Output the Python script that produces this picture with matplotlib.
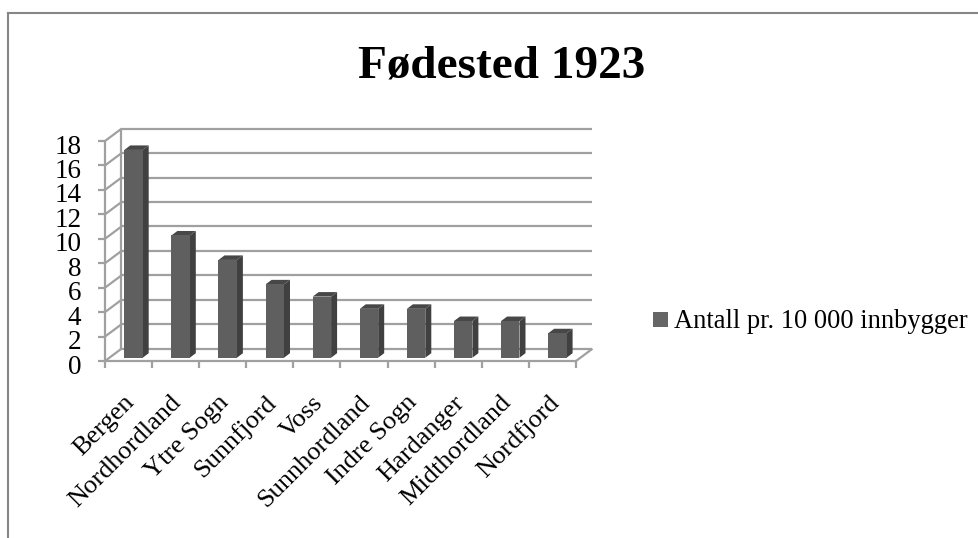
import matplotlib
matplotlib.use("Agg")
import matplotlib.pyplot as plt
from matplotlib.lines import Line2D
from matplotlib.patches import Polygon, Rectangle
from matplotlib.transforms import ScaledTranslation

categories = ["Bergen", "Nordhordland", "Ytre Sogn", "Sunnfjord", "Voss",
              "Sunnhordland", "Indre Sogn", "Hardanger", "Midthordland", "Nordfjord"]
values = [17, 10, 8, 6, 5, 4, 4, 3, 3, 2]
y_ticks = list(range(0, 19, 2))
title = "Fødested 1923"
series_name = "Antall pr. 10 000 innbygger"

W, H = 979, 538
plt.rcParams["font.family"] = ["Liberation Serif", "DejaVu Serif"]
fig = plt.figure(figsize=(W / 100, H / 100), dpi=100, facecolor="white")

# figure border
for xs, ys in [((8.5 / W, 8.5 / W), (0, 1 - 12.5 / H)), ((8.5 / W, 1), (1 - 12.5 / H, 1 - 12.5 / H))]:
    fig.add_artist(Line2D(xs, ys, color="#868686", lw=1.5, transform=fig.transFigure))

ax = fig.add_axes([105 / W, 1 - 361 / H, (576 - 105) / W, (361 - 141) / H])
ax.set_xlim(0, 10)
ax.set_ylim(0, 18)
for s in ax.spines.values():
    s.set_visible(False)
ax.patch.set_alpha(0)

GRID = "#a0a0a0"
LW = 1.6
n = len(categories)
unit_x = (576 - 105) / 10
unit_y = (361 - 141) / 18
dx = 16.5 / unit_x
dy = 12.3 / unit_y
kw = dict(color=GRID, lw=LW, clip_on=False, solid_capstyle="butt", zorder=1)

# walls and floor
for v in y_ticks:
    ax.plot([dx, n + dx], [v + dy, v + dy], **kw)
    ax.plot([0, dx], [v, v + dy], **kw)
ax.plot([0, 0], [0, 18], **kw)
ax.plot([dx, dx], [0 + dy, 18 + dy], **kw)
ax.plot([0, n], [0, 0], **kw)
ax.plot([n, n + dx], [0, dy], **kw)

# axis ticks
ax.set_yticks(y_ticks)
ax.set_xticks(range(n + 1))
ax.tick_params(axis="y", length=5, width=LW, color=GRID, labelsize=19.5, pad=12, labelcolor="black")
ax.tick_params(axis="x", length=5, width=LW, color=GRID, labelbottom=False)
for lab in ax.get_yticklabels():
    lab.set_transform(lab.get_transform() + ScaledTranslation(0, -3 / 100, fig.dpi_scale_trans))

# 3D bars
bar_w = 18.4 / unit_x
lift = 3.3 / unit_y
ddx = 6 / unit_x
ddy = 4.5 / unit_y
shift = 0.105
for i, v in enumerate(values):
    left = i + 0.5 + shift - bar_w / 2
    right = left + bar_w
    top = v + lift
    ax.add_patch(Polygon([(right, lift), (right + ddx, lift + ddy), (right + ddx, top + ddy), (right, top)],
                         fc="#404040", ec="none", clip_on=False, zorder=3))
    ax.add_patch(Polygon([(left, top), (left + ddx, top + ddy), (right + ddx, top + ddy), (right, top)],
                         fc="#474747", ec="none", clip_on=False, zorder=3))
    ax.add_patch(Rectangle((left, lift), bar_w, v, fc="#5f5f5f", ec="none", clip_on=False, zorder=4))

# rotated category labels
for i, c in enumerate(categories):
    ax.annotate(c, xy=(i + 0.5, 0), xytext=(-3.8, -22), textcoords="offset points",
                rotation=45, ha="right", va="top", rotation_mode="anchor",
                fontsize=19, color="black", annotation_clip=False)

fig.text(0.5 + 12 / W, 1 - 66 / H, title, ha="center", va="center", fontsize=34, fontweight="bold", color="black")

# legend
fig.add_artist(Rectangle((652.7 / W, 1 - 327 / H), 15 / W, 15 / H, fc="#666666", ec="none", transform=fig.transFigure))
fig.text(674 / W, 1 - 321 / H, series_name, ha="left", va="center", fontsize=19.1, color="black")

fig.savefig("out.png", dpi=100)
